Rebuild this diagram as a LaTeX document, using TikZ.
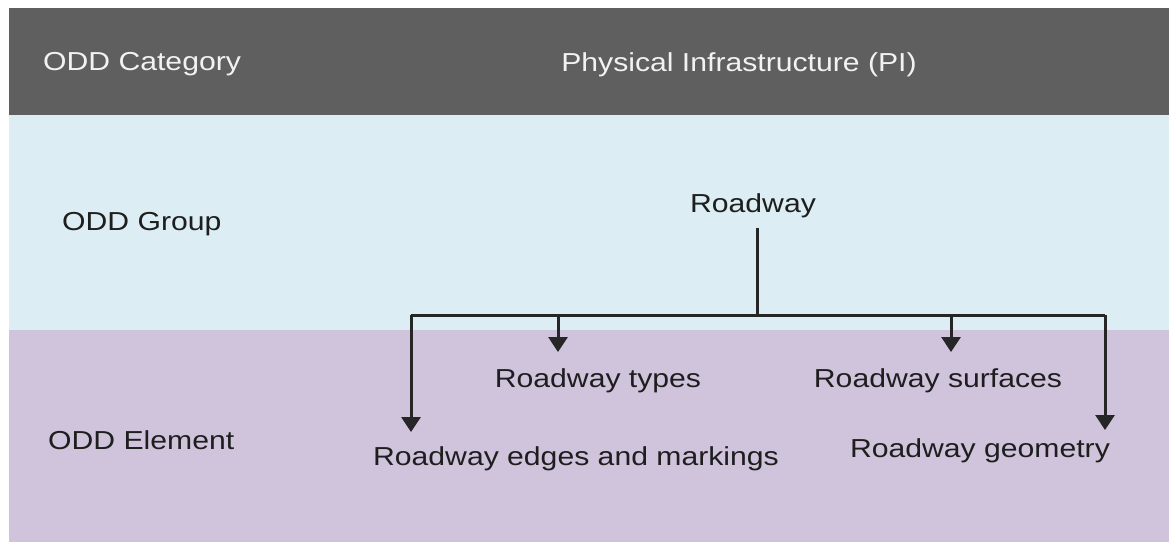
\documentclass[tikz,border=0pt]{standalone}
\usepackage{fontspec}
\setmainfont{Liberation Sans}[FakeStretch=1.16]
\usetikzlibrary{arrows.meta}
\definecolor{hdr}{HTML}{5F5F5F}
\definecolor{grp}{HTML}{DCEDF4}
\definecolor{elm}{HTML}{D0C4DD}
\definecolor{ink}{HTML}{1E1E1E}
\definecolor{hdrtxt}{HTML}{F2F2F2}
\definecolor{linec}{HTML}{262626}
\tikzset{
  lbl/.style={font=\fontsize{26}{30}\selectfont, text=ink, inner sep=0pt, anchor=base},
  hlbl/.style={lbl, text=hdrtxt},
  wire/.style={draw=linec, line width=3pt},
  arr/.style={wire, -{Triangle[width=19pt,length=15pt]}},
}
\begin{document}
\begin{tikzpicture}[x=1pt,y=-1pt]
\useasboundingbox (0,0) rectangle (1169,542);
\fill[white] (0,0) rectangle (1169,542);
\fill[hdr] (9,8) rectangle (1169,115);
\fill[grp] (9,115) rectangle (1169,330);
\fill[elm] (9,330) rectangle (1169,542);
% header
\node[hlbl, anchor=base west] (cat) at (43,70) {ODD Category};
\node[hlbl] (pi) at (739,71) {Physical Infrastructure (PI)};
% group
\node[lbl, anchor=base west] (grp) at (62,230) {ODD Group};
\node[lbl] (road) at (753,212) {Roadway};
% element
\node[lbl, anchor=base west] (elm) at (48,449) {ODD Element};
\node[lbl] (types) at (598,387) {Roadway types};
\node[lbl] (surf) at (938,387) {Roadway surfaces};
\node[lbl] (edges) at (576,465) {Roadway edges and markings};
\node[lbl] (geom) at (980,457) {Roadway geometry};
% connectors
\coordinate (j) at (757,315);
\coordinate (cl) at (411,315);
\coordinate (cr) at (1105,315);
\coordinate (ct) at (558,315);
\coordinate (cs) at (951,315);
\coordinate (tl) at (411,432);
\coordinate (tr) at (1105,430);
\coordinate (tt) at (558,352);
\coordinate (ts) at (951,352);
\draw[wire] ([yshift=-10pt]road.south -| j) -- (j);
\draw[wire] (cl) -- (cr);
\draw[arr] (cl) -- (tl);
\draw[arr] (cr) -- (tr);
\draw[arr] (ct) -- (tt);
\draw[arr] (cs) -- (ts);
\end{tikzpicture}
\end{document}
